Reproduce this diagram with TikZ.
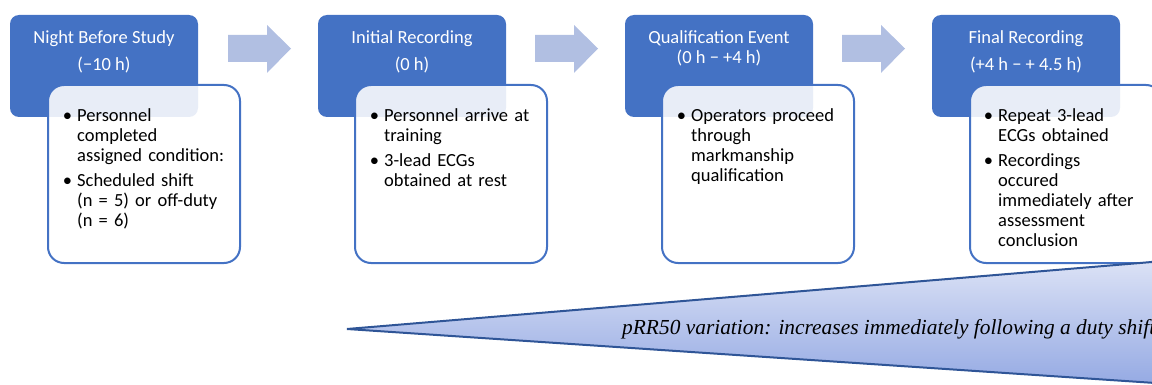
\documentclass[tikz,border=0pt]{standalone}
\usepackage{fontspec}
\setmainfont{Carlito}
\newfontfamily\timesfam{Liberation Serif}
\definecolor{hdr}{HTML}{4472C4}
\definecolor{arw}{HTML}{B1BFE2}
\definecolor{triline}{HTML}{2F5597}
\definecolor{tritop}{HTML}{DDE3F6}
\definecolor{tribot}{HTML}{94A9E3}
\newcommand{\bul}[1]{\par\noindent\strut\llap{\textbullet\hspace{5pt}}#1\par}
\tikzset{
  hdrbox/.style={draw=none, fill=hdr, rounded corners=9pt, minimum width=188pt, minimum height=102pt, anchor=north west, inner sep=0pt, outer sep=0pt},
  bodybox/.style={draw=hdr, line width=2pt, fill=white, fill opacity=0.88, rounded corners=16pt, minimum width=192pt, minimum height=178pt, anchor=north west, inner sep=0pt, outer sep=0pt},
  titletext/.style={anchor=north, align=center, text=white, inner sep=0pt, font=\fontsize{18.5}{20}\selectfont},
  bodytext/.style={anchor=north west, inner sep=0pt, text width=170pt, align=left, text=black, font=\fontsize{18.5}{20}\selectfont},
  blockarrow/.style={fill=arw, draw=none},
  tritext/.style={anchor=base west, inner sep=0pt, text=black, font=\timesfam\itshape\fontsize{21.4}{24}\selectfont}
}
\begin{document}
\begin{tikzpicture}[x=1pt,y=-1pt]
\useasboundingbox (0,0) rectangle (1152,385);
\clip (0,0) rectangle (1152,385);
% block arrows
\foreach \dx in {0,307,614} {
  \fill[blockarrow] (228+\dx,35) -- (267+\dx,35) -- (267+\dx,25) -- (291+\dx,48.5) -- (267+\dx,73) -- (267+\dx,62) -- (228+\dx,62) -- cycle;
}
% header boxes
\node[hdrbox] (h1) at (10,15) {};
\node[hdrbox] (h2) at (318,15) {};
\node[hdrbox] (h3) at (625,15) {};
\node[hdrbox] (h4) at (932,15) {};
% titles
\node[titletext] (t1) at (104,29) {\strut Night Before Study\\[7pt](−10 h)};
\node[titletext] (t2) at (412,29) {\strut Initial Recording\\[7pt](0 h)};
\node[titletext] (t3) at (719,29) {\strut Qualification Event\\(0 h − +4 h)};
\node[titletext] (t4) at (1026,29) {\strut Final Recording\\[7pt](+4 h − + 4.5 h)};
% body boxes
\node[bodybox] (w1) at (48,85) {};
\node[bodybox] (w2) at (355,85) {};
\node[bodybox] (w3) at (662,85) {};
\node[bodybox] (w4) at (970,85) {};
% body texts
\node[bodytext] (b1) at (77,101) {\bul{Personnel\newline completed\newline assigned condition:}\vspace{5pt}\bul{Scheduled shift\newline (n = 5) or off-duty\newline (n = 6)}};
\node[bodytext] (b2) at (384,101) {\bul{Personnel arrive at\newline training}\vspace{5pt}\bul{3-lead ECGs\newline obtained at rest}};
\node[bodytext] (b3) at (691,101) {\bul{Operators proceed\newline through\newline markmanship\newline qualification}};
\node[bodytext] (b4) at (998,101) {\bul{Repeat 3-lead\newline ECGs obtained}\vspace{5pt}\bul{Recordings\newline occured\newline immediately after\newline assessment\newline conclusion}};
% wedge
\coordinate (tip) at (347,329);
\coordinate (ttop) at (1200,258);
\coordinate (tbot) at (1200,386);
\shade[top color=tritop, bottom color=tribot, draw=triline, line width=2pt, line join=miter] (tip) -- (ttop) -- (tbot) -- cycle;
\node[tritext] (tt) at (622,334) {pRR50 variation: increases immediately following a duty shift};
\end{tikzpicture}
\end{document}
